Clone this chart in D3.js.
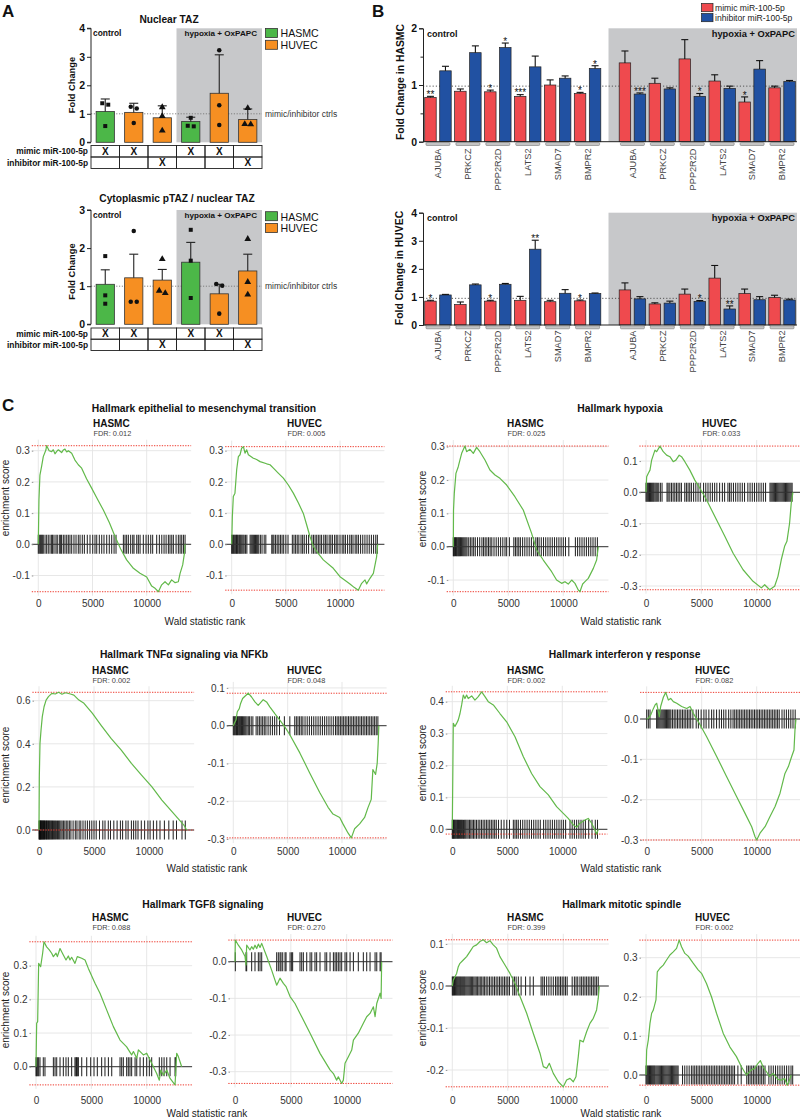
<!DOCTYPE html>
<html><head><meta charset="utf-8">
<script src="https://cdn.jsdelivr.net/npm/d3@7"></script>
<style>body{margin:0;background:#fff}svg{font-family:"Liberation Sans",Arial,Helvetica,sans-serif}</style>
</head><body>
<script>
// ================= DATA =================
// ---- Panel A ----
const aSlots = ["HASMC ctrl mimic","HUVEC ctrl mimic","HUVEC ctrl inhibitor","HASMC hyp mimic","HUVEC hyp mimic","HUVEC hyp inhibitor"];
const aCellType = ["HASMC","HUVEC","HUVEC","HASMC","HUVEC","HUVEC"];
const aMimic = ["X","X","","X","X",""];
const aInhibitor = ["","","X","","","X"];
const aMarker = ["square","circle","triangle","square","circle","triangle"];
const aCellTypes = ["HASMC","HUVEC"];
const nucMean  = [1.08, 1.05, 0.86, 0.73, 1.72, 0.80];
const nucUpper = [1.52, 1.37, 1.28, 0.88, 3.07, 1.17];
const nucPts   = [[1.37,1.32,0.57],[1.25,1.19,0.68],[1.23,0.92,0.41],[0.86,0.58,0.56],[3.23,1.30,0.61],[1.20,0.64,0.63]];
const nucTicks = [0,1,2,3,4];
const cytoMean  = [1.05, 1.22, 1.16, 1.63, 0.80, 1.40];
const cytoUpper = [1.43, 1.84, 1.44, 2.15, 1.05, 1.84];
const cytoPts   = [[1.79,0.76,0.54],[2.45,0.59,0.59],[1.71,0.88,0.82],[2.48,1.67,0.69],[1.06,1.01,0.28],[2.24,1.11,0.78]];
const cytoTicks = [0,1,2,3];

// ---- Panel B ----
const bGenes = ["AJUBA","PRKCZ","PPP2R2D","LATS2","SMAD7","BMPR2"];
const bConditions = ["control","hypoxia + OxPAPC"];
const bSeries = ["mimic miR-100-5p","inhibitor miR-100-5p"];
const hasmcMimicCtrl  = [0.78,0.89,0.88,0.80,1.00,0.85];
const hasmcMimicCtrlUp= [0.80,0.93,0.91,0.83,1.09,0.87];
const hasmcInhibCtrl  = [1.25,1.57,1.66,1.32,1.12,1.29];
const hasmcInhibCtrlUp= [1.33,1.69,1.74,1.51,1.16,1.34];
const hasmcMimicHyp   = [1.39,1.03,1.46,1.07,0.70,0.95];
const hasmcMimicHypUp = [1.60,1.12,1.80,1.18,0.79,0.98];
const hasmcInhibHyp   = [0.84,0.93,0.80,0.94,1.28,1.06];
const hasmcInhibHypUp = [0.86,0.95,0.85,0.98,1.43,1.08];
const hasmcStarsMimicCtrl = ["**","","*","***","","*"];
const hasmcStarsInhibCtrl = ["","","*","","","*"];
const hasmcStarsMimicHyp  = ["","","","","*",""];
const hasmcStarsInhibHyp  = ["***","","*","","",""];
const huvecMimicCtrl  = [0.85,0.73,0.85,0.88,0.83,0.86];
const huvecMimicCtrlUp= [0.88,0.82,0.88,1.02,0.88,0.89];
const huvecInhibCtrl  = [1.07,1.43,1.45,2.70,1.13,1.12];
const huvecInhibCtrlUp= [1.09,1.46,1.48,3.02,1.26,1.14];
const huvecMimicHyp   = [1.25,0.75,1.10,1.67,1.12,0.98];
const huvecMimicHypUp = [1.50,0.79,1.28,2.12,1.28,1.06];
const huvecInhibHyp   = [0.93,0.78,0.84,0.57,0.90,0.89];
const huvecInhibHypUp = [1.01,0.85,0.87,0.68,1.01,0.92];
const huvecStarsMimicCtrl = ["*","","*","","","*"];
const huvecStarsInhibCtrl = ["","","","**","",""];
const huvecStarsMimicHyp  = ["","","","","",""];
const huvecStarsInhibHyp  = ["","","*","**","",""];

// ---- Panel C (GSEA running enrichment score [rank, ES] and hit ranks) ----
const gseaTitles = ["Hallmark epithelial to mesenchymal transition","Hallmark hypoxia","Hallmark TNFα signaling via NFKb","Hallmark interferon γ  response","Hallmark TGFß signaling","Hallmark mitotic spindle"];
const gseaCells = ["HASMC","HUVEC"];
const gseaFdr = ["0.012","0.005","0.025","0.033","0.002","0.048","0.002","0.082","0.088","0.270","0.399","0.002"];
const gseaXTicks = [0,5000,10000];
const gseaYTicks = [[-0.1,0,0.1,0.2,0.3],[-0.1,0,0.1,0.2,0.3],[-0.1,0,0.1,0.2,0.3],[-0.3,-0.2,-0.1,0,0.1],
  [0,0.2,0.4,0.6],[-0.3,-0.2,-0.1,0,0.1],[0,0.1,0.2,0.3,0.4],[-0.3,-0.2,-0.1,0],
  [0,0.1,0.2,0.3],[-0.3,-0.2,-0.1,0],[-0.2,-0.1,0,0.1],[0,0.1,0.2,0.3]];

const emtHasmcCurve = [[0,0],[60,0.142],[150,0.222],[300,0.249],[460,0.281],[700,0.302],[770,0.316],[1000,0.3],[1230,0.297],[1380,0.303],[1540,0.29],[1700,0.298],[1850,0.303],[2150,0.294],[2300,0.302],[2460,0.305],[2620,0.296],[2770,0.3],[3080,0.292],[3380,0.27],[3690,0.255],[4000,0.244],[4450,0.21],[4920,0.18],[5450,0.145],[6000,0.11],[6550,0.07],[7080,0.025],[7600,-0.015],[8150,-0.05],[8770,-0.077],[9380,-0.093],[10000,-0.105],[10460,-0.134],[10800,-0.142],[11080,-0.152],[11380,-0.13],[11690,-0.12],[12000,-0.13],[12300,-0.114],[12620,-0.123],[12920,-0.12],[13080,-0.093],[13320,-0.066],[13480,-0.029],[13540,0]];
const emtHasmcHits = [0,90,190,280,370,460,620,770,920,1080,1230,1320,1450,1630,1750,1940,2060,2150,2310,2460,2620,2770,2920,3080,3290,3480,3690,3850,4060,4250,4520,4770,5020,5230,5390,5630,5850,6060,6310,6550,6770,6990,7170,7850,8000,8150,8310,8520,8710,8830,9080,9230,9390,9690,9940,10150,10370,10550,10920,11170,11390,11600,11790,12000,12150,12310,12460,12710,12920,13080,13230,13390,13540];

const emtHuvecCurve = [[0,0],[60,0.089],[150,0.153],[300,0.164],[460,0.239],[615,0.281],[770,0.287],[920,0.308],[1080,0.313],[1230,0.292],[1380,0.303],[1540,0.287],[2000,0.276],[2300,0.272],[2620,0.265],[3230,0.258],[3540,0.255],[3850,0.244],[4300,0.228],[4770,0.212],[5230,0.19],[5690,0.164],[6150,0.133],[6615,0.099],[6900,0.065],[7230,0.025],[7540,-0.007],[8000,-0.03],[8460,-0.05],[9380,-0.077],[10000,-0.104],[10450,-0.115],[10920,-0.127],[11300,-0.138],[11690,-0.147],[12000,-0.125],[12310,-0.114],[12460,-0.127],[12770,-0.109],[13080,-0.093],[13380,-0.04],[13480,0]];
const emtHuvecHits = [0,60,150,220,300,380,450,520,600,700,780,860,950,1050,1150,1280,1400,1700,1800,1900,2000,2100,2200,2300,2400,2500,2650,2800,3000,3150,3700,3800,3900,4050,4200,4350,4500,4650,4800,5000,5200,5600,5750,5900,6050,6200,6400,6550,6700,6900,7100,7400,7550,7700,7850,8000,8150,8300,8500,8650,8800,9000,9150,9300,9500,9650,9800,10000,10200,10350,10500,10700,10900,11050,11200,11400,11550,11700,11900,12100,12300,12500,12700,12900,13100,13300,13450];

const hypHasmcCurve = [[0,0],[20,0.11],[90,0.16],[240,0.22],[450,0.24],[600,0.26],[760,0.28],[1060,0.302],[1210,0.285],[1515,0.292],[1820,0.28],[2120,0.298],[2420,0.285],[2880,0.26],[3330,0.23],[3790,0.215],[4240,0.205],[4850,0.185],[5600,0.15],[6360,0.11],[7120,0.04],[7575,-0.01],[8180,-0.04],[8940,-0.075],[9390,-0.1],[9850,-0.11],[10150,-0.105],[10450,-0.112],[10760,-0.1],[11060,-0.11],[11360,-0.13],[11510,-0.135],[11760,-0.112],[11970,-0.105],[12270,-0.095],[12730,-0.065],[13030,-0.04],[13180,0]];
const hypHasmcHits = [0,50,120,200,280,350,430,500,580,650,750,850,950,1050,1150,1250,1400,1550,1700,1850,2000,2200,2400,2600,2750,2900,3050,3200,3350,3500,3700,3900,4100,4300,4500,4700,4850,5100,5500,5650,5800,5950,6100,6300,6500,6700,6900,7100,7300,7500,7650,7800,8000,8200,8400,8600,8800,9000,9200,9400,9600,9800,10000,10200,10500,11100,11300,11500,11700,11900,12100,12300,12500,12700,12900,13100];

const hypHuvecCurve = [[0,0],[60,0.05],[210,0.061],[360,0.071],[510,0.103],[660,0.119],[810,0.135],[960,0.13],[1260,0.148],[1560,0.13],[1860,0.119],[2160,0.114],[2460,0.098],[2700,0.103],[3000,0.119],[3210,0.114],[3510,0.098],[3960,0.071],[4410,0.039],[4865,0.013],[5465,-0.024],[6370,-0.088],[7120,-0.141],[7870,-0.195],[8770,-0.248],[9670,-0.285],[10420,-0.306],[10720,-0.296],[11170,-0.312],[11620,-0.301],[11920,-0.269],[12220,-0.216],[12520,-0.173],[12730,-0.157],[12970,-0.099],[13120,-0.035],[13270,0]];
const hypHuvecHits = [0,80,160,240,320,400,480,560,640,720,820,920,1020,1150,1300,1450,1900,2000,2150,2300,2450,2600,2750,2900,3050,3200,3500,3650,3800,3950,4100,4300,4500,4700,4900,5200,5400,5600,5800,6000,6200,6400,6650,6900,7100,7400,7550,7700,7900,8100,8300,8500,8700,8900,9200,9400,9600,9800,10000,10200,10400,10600,10800,11200,11300,11400,11500,11600,11700,11800,11900,12000,12100,12200,12300,12400,12500,12600,12700,12800,12900,13000,13100,13200];

const tnfHasmcCurve = [[0,0],[30,0.247],[90,0.402],[185,0.464],[300,0.526],[460,0.572],[645,0.603],[860,0.619],[1170,0.634],[1480,0.631],[1785,0.639],[2090,0.63],[2400,0.637],[2860,0.631],[3170,0.626],[3630,0.603],[4090,0.588],[4860,0.541],[5630,0.487],[6550,0.425],[7480,0.371],[8400,0.309],[9320,0.255],[10250,0.201],[11170,0.139],[12090,0.085],[12710,0.049],[13170,0.023],[13420,0]];
const tnfHasmcHits = [0,40,80,120,160,200,250,300,350,400,450,500,560,620,680,740,800,870,940,1010,1080,1150,1230,1310,1400,1490,1580,1680,1780,1880,1990,2100,2220,2350,2480,2620,2760,2900,3100,3300,3450,3650,3800,4000,4200,4400,4600,4800,5000,5200,5500,5800,6000,6300,6500,6800,7100,7400,7600,7900,8100,8400,8600,8800,9000,9300,9600,9900,10100,10400,10700,11000,11400,11800,12200,12500,13000,13300];

const tnfHuvecCurve = [[0,0],[90,0.006],[245,0.015],[367,0.037],[550,0.045],[673,0.059],[856,0.072],[1070,0.078],[1376,0.086],[1680,0.076],[1990,0.063],[2290,0.054],[2750,0.069],[3060,0.063],[3360,0.05],[3820,0.032],[4280,0.015],[4740,-0.003],[5200,-0.024],[6120,-0.072],[7030,-0.125],[7950,-0.177],[8720,-0.216],[9170,-0.234],[9790,-0.243],[10090,-0.26],[10550,-0.284],[10860,-0.297],[11160,-0.273],[11620,-0.26],[12080,-0.243],[12390,-0.217],[12690,-0.195],[12840,-0.116],[13090,-0.129],[13240,-0.099],[13330,-0.046],[13390,0]];
const tnfHuvecHits = [0,80,150,230,300,380,450,530,600,680,760,850,950,1050,1150,1260,1380,1500,1650,1800,2100,2250,2400,2550,2700,2850,3000,3200,3400,3600,3800,4000,4250,4700,5200,5650,5800,5950,6100,6250,6400,6600,6800,7000,7200,7400,7600,7800,8000,8200,8400,8600,8800,9000,9200,9400,9550,9700,9850,10000,10150,10300,10450,10600,10750,10900,11050,11200,11350,11500,11650,11800,11950,12100,12250,12400,12550,12700,12850,13000,13150,13300];

const ifnHasmcCurve = [[0,0],[90,0.332],[240,0.322],[390,0.332],[545,0.343],[700,0.363],[850,0.39],[1000,0.421],[1150,0.41],[1300,0.421],[1450,0.41],[1760,0.418],[2060,0.405],[2360,0.416],[2670,0.431],[2970,0.416],[3270,0.4],[3730,0.39],[4330,0.363],[4940,0.337],[5700,0.29],[6450,0.228],[7210,0.175],[7970,0.134],[8730,0.108],[9480,0.071],[10090,0.05],[10540,0.034],[11000,0.014],[11300,0.006],[11600,0.019],[12060,0.029],[12360,0.034],[12670,0.019],[12970,-0.002],[13120,-0.015],[13270,0]];
const ifnHasmcHits = [0,60,120,180,250,320,400,480,560,650,740,830,920,1020,1120,1220,1330,1440,1560,1680,1800,1930,2060,2200,2350,2500,2650,2800,2950,3100,3250,3400,3550,3700,3850,4000,4200,4450,4700,4950,5200,5550,5700,5850,6000,6200,6400,6600,6800,7000,7200,7400,7600,7800,8000,8300,8500,8700,8900,9100,9300,9500,9700,9900,10100,10300,10700,10900,11100,11300,11500,11700,11900,12100,12400,12700,13000,13200];

const ifnHuvecCurve = [[0,0],[150,0.002],[365,0.01],[545,0.022],[760,0.035],[910,0.039],[1150,0.006],[1270,0.031],[1515,0.054],[1730,0.066],[1970,0.047],[2180,0.051],[2420,0.043],[2730,0.039],[3180,0.031],[3640,0.026],[3940,0.031],[4240,0.014],[4700,-0.007],[5450,-0.044],[6360,-0.093],[7270,-0.143],[8180,-0.193],[8940,-0.234],[9545,-0.267],[9850,-0.292],[10000,-0.3],[10300,-0.283],[10760,-0.267],[11210,-0.242],[11670,-0.217],[12120,-0.184],[12570,-0.135],[12880,-0.118],[13180,-0.093],[13390,-0.077],[13480,-0.027],[13570,0]];
const ifnHuvecHits = [0,150,300,900,1000,1100,1200,1300,1400,1500,1600,1700,1800,1900,2000,2100,2200,2350,2500,2650,2800,2950,3100,3250,3400,3550,3700,3850,4000,4200,4500,4700,4950,5200,5400,5650,5900,6100,6350,6600,6800,7000,7200,7450,7650,7850,8000,8150,8300,8450,8600,8750,8900,9050,9200,9350,9500,9650,9800,9950,10100,10250,10400,10550,10700,10850,11000,11150,11300,11450,11600,11750,11900,12050,12300,12500,12700,12900,13100,13300,13500];

const tgfHasmcCurve = [[0,0],[60,0.129],[150,0.134],[240,0.307],[420,0.297],[600,0.337],[720,0.371],[960,0.356],[1200,0.347],[1415,0.337],[1570,0.327],[1810,0.337],[1930,0.327],[2170,0.351],[2470,0.332],[2710,0.317],[2920,0.329],[3070,0.317],[3220,0.325],[3520,0.307],[3730,0.327],[4130,0.322],[4430,0.317],[4730,0.292],[5330,0.248],[5780,0.218],[6390,0.168],[6990,0.119],[7590,0.079],[8190,0.059],[8640,0.035],[8800,0.045],[9100,0.025],[9250,0.05],[9700,0.035],[10000,0.04],[10450,0.01],[10900,-0.02],[11140,-0.04],[11270,-0.01],[11510,-0.025],[11810,-0.01],[12110,-0.035],[12560,-0.054],[12710,0.04],[12860,0.03],[13160,0]];
const tgfHasmcHits = [0,60,150,240,360,660,810,1570,1720,1870,2170,2470,2710,2920,3220,3520,3610,3670,3730,3830,4130,4580,4940,5240,5540,5930,6230,6540,6840,7590,7740,7890,8190,8340,8490,8640,8950,9100,9400,9700,10000,10240,10450,11140,11360,11570,11810,12110,12560,12620];

const tgfHuvecCurve = [[0,0],[30,0.059],[300,0.045],[600,0.032],[900,0.014],[985,-0.009],[1045,0.045],[1340,0.032],[1490,0.041],[1640,0.034],[1790,0.045],[1940,0.036],[2090,0.048],[2240,0.039],[2390,0.05],[2840,0.014],[3280,-0.023],[3730,-0.064],[3880,-0.055],[4030,-0.045],[4330,-0.059],[4570,-0.068],[4930,-0.095],[5370,-0.114],[5820,-0.141],[6720,-0.195],[7610,-0.25],[8510,-0.295],[8810,-0.305],[9100,-0.323],[9250,-0.314],[9550,-0.332],[9700,-0.323],[9850,-0.277],[10150,-0.259],[10450,-0.241],[10600,-0.214],[11040,-0.195],[11490,-0.168],[11790,-0.15],[12090,-0.141],[12390,-0.123],[12540,-0.15],[12690,-0.114],[12990,-0.086],[13080,-0.1],[13130,0]];
const tgfHuvecHits = [30,985,1045,1490,1790,2090,2240,2390,3730,3880,4030,4120,4270,4480,4570,4930,5070,5160,5820,5970,6120,6420,6720,6870,7160,7310,7610,8060,8210,8510,8810,8960,9100,9250,9400,9550,9850,10000,10300,10600,11040,11490,11790,12090,12540,12690,12990,13080];

const mitHasmcCurve = [[0,0],[90,0.014],[240,0.022],[390,0.03],[540,0.046],[690,0.054],[990,0.062],[1290,0.07],[1590,0.082],[1890,0.094],[2190,0.098],[2490,0.106],[2790,0.11],[3090,0.103],[3390,0.108],[3690,0.098],[3990,0.09],[4290,0.07],[4745,0.05],[5195,0.03],[5645,0.006],[6100,-0.025],[6700,-0.065],[7300,-0.113],[7900,-0.16],[8200,-0.192],[8500,-0.196],[8740,-0.184],[9100,-0.208],[9550,-0.228],[10000,-0.24],[10300,-0.224],[10600,-0.22],[10900,-0.228],[11140,-0.216],[11350,-0.168],[11500,-0.129],[11800,-0.133],[12100,-0.109],[12400,-0.089],[12700,-0.077],[13000,-0.057],[13150,-0.029],[13240,0]];
const mitHasmcHits = [0,60,120,200,280,360,440,520,600,680,760,850,940,1030,1120,1220,1320,1420,1520,1620,1720,1830,1940,2050,2160,2280,2400,2520,2650,2780,2910,3050,3200,3350,3500,3650,3800,3950,4100,4250,4400,4550,4700,4850,5000,5150,5450,5600,5750,5950,6200,6600,7000,7300,8000,8150,8300,8500,8700,8900,9100,9300,9450,9600,9750,9900,10050,10200,10350,10800,11000,11150,11300,11500,11650,11800,11950,12100,12250,12400,12550,12700,12850,13000,13150];

const mitHuvecCurve = [[0,0],[60,0.064],[210,0.09],[360,0.132],[510,0.158],[660,0.166],[900,0.192],[1020,0.264],[1260,0.273],[1560,0.281],[1860,0.294],[2160,0.307],[2460,0.315],[2760,0.324],[3000,0.345],[3210,0.328],[3510,0.311],[3810,0.304],[4260,0.286],[4710,0.269],[5015,0.26],[5465,0.234],[5915,0.2],[6370,0.158],[6970,0.107],[7570,0.072],[8170,0.047],[8620,0.021],[9070,0],[9520,0.013],[9820,0.017],[10120,0.03],[10330,0.037],[10570,0.021],[10870,0.009],[11170,-0.004],[11470,0.004],[11920,-0.011],[12220,-0.013],[12520,-0.009],[12760,-0.026],[12970,-0.013],[13120,0]];
const mitHuvecHits = [0,80,160,240,320,400,480,560,640,720,800,900,1000,1100,1200,1300,1400,1500,1600,1700,1800,1900,2000,2100,2200,2300,2400,2500,2600,2700,2800,2900,3300,3500,3700,3900,4100,4250,4400,4550,4700,4850,5000,5150,5300,5450,5600,5750,5900,6050,6200,6350,6500,6650,6800,6950,7100,7250,7400,7550,7700,7850,8000,8300,8600,9100,9250,9400,9550,9700,9850,10000,10150,10300,10450,10600,10750,11100,11300,11500,11700,11900,12100,12300,12500,12700,12900,13100,13250];

const gseaCurves = [emtHasmcCurve,emtHuvecCurve,hypHasmcCurve,hypHuvecCurve,tnfHasmcCurve,tnfHuvecCurve,ifnHasmcCurve,ifnHuvecCurve,tgfHasmcCurve,tgfHuvecCurve,mitHasmcCurve,mitHuvecCurve];
const gseaHits = [emtHasmcHits,emtHuvecHits,hypHasmcHits,hypHuvecHits,tnfHasmcHits,tnfHuvecHits,ifnHasmcHits,ifnHuvecHits,tgfHasmcHits,tgfHuvecHits,mitHasmcHits,mitHuvecHits];

// ================= LAYOUT / STYLE =================
const FONT = '"Liberation Sans",Arial,Helvetica,sans-serif';
const cellColor = {HASMC:"#4cb748", HUVEC:"#f68f22"};
const bColor = ["#ef4a4e","#2151a2"];
const shade = "#c7c8ca";

const svg = d3.select("body").append("svg").attr("width",800).attr("height",1120);
function txt(x,y,s,o={}){
  const t = svg.append("text").attr("x",x).attr("y",y).text(s)
    .attr("font-size",o.size||10).attr("font-weight",o.bold?"bold":"normal")
    .attr("text-anchor",o.anchor||"start").attr("fill",o.fill||"#111");
  if(o.rot) t.attr("transform",`rotate(-90,${x},${y})`);
  return t;
}
function styleAxis(g, size, bold, color){
  g.selectAll("text").attr("font-size",size).attr("font-weight",bold?"bold":"normal").attr("fill",color||"#111").attr("font-family",FONT);
  g.selectAll("line").attr("stroke","#222");
  g.select(".domain").attr("stroke","#222");
}

// panel letters
txt(2,17,"A",{size:17,bold:true});
txt(372,17,"B",{size:17,bold:true});
txt(2,411,"C",{size:17,bold:true});

// ================= PANEL A =================
function drawA(o){
  const x = d3.scaleBand().domain(d3.range(aSlots.length)).range([91,262]).paddingInner(0.36).paddingOuter(0.18);
  const y = d3.scaleLinear().domain([0,o.ymax]).range([o.y0,o.yTop]);
  const half = x.step()*0.18;
  const edge = i => i>=aSlots.length ? 262 : x(i)-half;
  svg.append("rect").attr("x",edge(3)).attr("y",y(o.ymax)).attr("width",262-edge(3)).attr("height",y(0)-y(o.ymax)).attr("fill",shade);
  svg.append("line").attr("x1",91).attr("x2",262).attr("y1",y(1)).attr("y2",y(1)).attr("stroke","#777").attr("stroke-width",0.9).attr("stroke-dasharray","1.2,1.6");
  txt(265,y(1)+3,"mimic/inhibitor ctrls",{size:8.5,fill:"#333"});
  const idx = d3.range(aSlots.length);
  svg.selectAll(null).data(idx).enter().append("rect")
    .attr("x",i=>x(i)).attr("width",x.bandwidth()).attr("y",i=>y(o.mean[i])).attr("height",i=>y(0)-y(o.mean[i]))
    .attr("fill",i=>cellColor[aCellType[i]]).attr("stroke","#333").attr("stroke-width",0.8);
  idx.forEach(i=>{
    const cx = x(i)+x.bandwidth()/2;
    svg.append("line").attr("x1",cx).attr("x2",cx).attr("y1",y(o.mean[i])).attr("y2",y(o.up[i])).attr("stroke","#222").attr("stroke-width",1.1);
    svg.append("line").attr("x1",cx-4.5).attr("x2",cx+4.5).attr("y1",y(o.up[i])).attr("y2",y(o.up[i])).attr("stroke","#222").attr("stroke-width",1.1);
    const pts = o.pts[i];
    const sym = aMarker[i]==="square"?d3.symbolSquare:aMarker[i]==="circle"?d3.symbolCircle:d3.symbolTriangle;
    pts.forEach((v,k)=>{
      let dx = 0;
      pts.forEach((w,j)=>{ if(j!==k && Math.abs(w-v)<0.1){ dx = k<j ? -3 : 3; }});
      svg.append("path").attr("d",d3.symbol().type(sym).size(aMarker[i]==="triangle"?20:16)())
        .attr("transform",`translate(${cx+dx},${y(v)})`).attr("fill","#111");
    });
  });
  const ax = svg.append("g").attr("transform","translate(91,0)").call(d3.axisLeft(y).tickValues(o.ticks).tickSize(4).tickPadding(2).tickFormat(d3.format("d")));
  styleAxis(ax,10.5,true);
  ax.select(".domain").attr("d",`M-4,${y(o.ymax)}H0V${y(0)}H-4`);
  txt(o.titleX,o.titleY,o.title,{size:10.2,bold:true,anchor:"middle"});
  txt(75,o.ylabY,"Fold Change",{size:9.3,bold:true,anchor:"middle",rot:true});
  txt(93,o.condY,"control",{size:8.4,bold:true});
  txt(184.5,o.condY,"hypoxia + OxPAPC",{size:8.1,bold:true});
  aCellTypes.forEach((c,k)=>{
    svg.append("rect").attr("x",265.5).attr("y",o.legY+k*11.8).attr("width",12).attr("height",9).attr("fill",cellColor[c]).attr("stroke","#333").attr("stroke-width",0.8);
    txt(280.5,o.legY+8.8+k*11.8,c,{size:10.6});
  });
  const rows = [["mimic miR-100-5p",aMimic,o.tTop,o.tMid],["inhibitor miR-100-5p",aInhibitor,o.tMid,o.tBot]];
  rows.forEach(([lab,marks,t,b])=>{
    txt(88,(t+b)/2+3,lab,{size:8.4,bold:true,anchor:"end"});
    idx.forEach(i=>{
      svg.append("rect").attr("x",edge(i)).attr("y",t).attr("width",edge(i+1)-edge(i)).attr("height",b-t).attr("fill","none").attr("stroke","#222").attr("stroke-width",0.9);
      if(marks[i]) txt(x(i)+x.bandwidth()/2,(t+b)/2+3.6,marks[i],{size:10,bold:true,anchor:"middle"});
    });
  });
}
drawA({ymax:4,y0:142.3,yTop:28.3,ticks:nucTicks,mean:nucMean,up:nucUpper,pts:nucPts,title:"Nuclear TAZ",titleX:169,titleY:23,ylabY:85,condY:35.5,legY:28.5,tTop:145.5,tMid:157,tBot:168.5});
drawA({ymax:3,y0:324.3,yTop:210,ticks:cytoTicks,mean:cytoMean,up:cytoUpper,pts:cytoPts,title:"Cytoplasmic pTAZ / nuclear TAZ",titleX:177,titleY:202,ylabY:271.5,condY:217.5,legY:211.7,tTop:328,tMid:339.2,tBot:350.5});

// ================= PANEL B =================
function drawB(o){
  const xs = d3.scaleLinear().domain([-0.5,12]).range([423,797]);
  const y = d3.scaleLinear().domain([0,o.ymax]).range([o.y0,o.yTop]);
  const slot = (ci,gi)=> ci*6.5+gi;
  const bw = 11.5, off = 7.5;
  svg.append("rect").attr("x",xs(5.7)).attr("y",y(o.ymax)).attr("width",797-xs(5.7)).attr("height",y(0)-y(o.ymax)).attr("fill",shade);
  svg.append("line").attr("x1",423).attr("x2",797).attr("y1",y(o.ref)).attr("y2",y(o.ref)).attr("stroke","#555").attr("stroke-width",1).attr("stroke-dasharray","1.2,2");
  const series = [[o.mc,o.mcU,o.smc,0,0],[o.ic,o.icU,o.sic,0,1],[o.mh,o.mhU,o.smh,1,0],[o.ih,o.ihU,o.sih,1,1]];
  series.forEach(([vals,ups,stars,ci,si])=>{
    vals.forEach((v,gi)=>{
      const cx = xs(slot(ci,gi)) + (si===0?-off:off);
      svg.append("rect").attr("x",cx-bw/2).attr("width",bw).attr("y",y(v)).attr("height",y(0)-y(v)).attr("fill",bColor[si]).attr("stroke","#222").attr("stroke-width",0.7);
      svg.append("line").attr("x1",cx).attr("x2",cx).attr("y1",y(v)).attr("y2",y(ups[gi])).attr("stroke","#111").attr("stroke-width",1.1);
      svg.append("line").attr("x1",cx-3.5).attr("x2",cx+3.5).attr("y1",y(ups[gi])).attr("y2",y(ups[gi])).attr("stroke","#111").attr("stroke-width",1.1);
      if(stars[gi]) txt(cx,y(ups[gi])+1.8,stars[gi],{size:10,anchor:"middle"});
    });
  });
  svg.append("line").attr("x1",423).attr("x2",797).attr("y1",y(0)).attr("y2",y(0)).attr("stroke","#222").attr("stroke-width",1);
  bConditions.forEach((c,ci)=>bGenes.forEach((g,gi)=>{
    const cx = xs(slot(ci,gi));
    svg.append("rect").attr("x",cx-12).attr("y",y(0)+0.8).attr("width",24).attr("height",3).attr("rx",1).attr("fill","#c4c4c4").attr("stroke","#777").attr("stroke-width",0.6);
    txt(cx+3.3,o.labY,g,{size:9.2,anchor:"end",rot:true,fill:"#444"});
  }));
  const ax = svg.append("g").attr("transform","translate(423,0)").call(d3.axisLeft(y).tickValues(o.ticks).tickSize(4).tickPadding(2).tickFormat(d3.format("d")));
  styleAxis(ax,10.5,true);
  if(o.minor){
    const mx = svg.append("g").attr("transform","translate(423,0)").call(d3.axisLeft(y).tickValues(o.minor).tickSize(2.5).tickFormat(""));
    mx.select(".domain").remove(); mx.selectAll("line").attr("stroke","#222");
  }
  txt(o.ylabX,o.ylabY,o.ylab,{size:10.4,bold:true,anchor:"middle",rot:true});
  txt(427,o.condY,bConditions[0],{size:9,bold:true});
  txt(795,o.condY,bConditions[1],{size:9.3,bold:true,anchor:"end"});
}
drawB({ymax:2,y0:141.7,yTop:28.3,ticks:[0,1,2],minor:[0.5,1.5],ref:0.98,
  mc:hasmcMimicCtrl,mcU:hasmcMimicCtrlUp,ic:hasmcInhibCtrl,icU:hasmcInhibCtrlUp,mh:hasmcMimicHyp,mhU:hasmcMimicHypUp,ih:hasmcInhibHyp,ihU:hasmcInhibHypUp,
  smc:hasmcStarsMimicCtrl,sic:hasmcStarsInhibCtrl,smh:hasmcStarsMimicHyp,sih:hasmcStarsInhibHyp,
  labY:148.5,ylab:"Fold Change in HASMC",ylabX:403.5,ylabY:82,condY:36.5});
drawB({ymax:4,y0:325,yTop:212.7,ticks:[0,1,2,3,4],minor:null,ref:0.95,
  mc:huvecMimicCtrl,mcU:huvecMimicCtrlUp,ic:huvecInhibCtrl,icU:huvecInhibCtrlUp,mh:huvecMimicHyp,mhU:huvecMimicHypUp,ih:huvecInhibHyp,ihU:huvecInhibHypUp,
  smc:huvecStarsMimicCtrl,sic:huvecStarsInhibCtrl,smh:huvecStarsMimicHyp,sih:huvecStarsInhibHyp,
  labY:330.5,ylab:"Fold Change in HUVEC",ylabX:402.5,ylabY:268,condY:221});
bSeries.forEach((s,k)=>{
  svg.append("rect").attr("x",701.5).attr("y",3.5+k*10).attr("width",11.5).attr("height",8.2).attr("fill",bColor[k]).attr("stroke","#222").attr("stroke-width",0.7);
  txt(715,11.3+k*10,s,{size:8.6,fill:"#222"});
});

// ================= PANEL C =================
const gseaLayout = [
  {px0:38.3,px10k:146.7,py0:544.3,refV:0.3,refPx:450.7,subX:93,ylabY:498},
  {px0:231.7,px10k:340,py0:544.3,refV:0.3,refPx:450.7,subX:287},
  {px0:453.3,px10k:563.3,py0:546.7,refV:0.3,refPx:446.7,subX:507,ylabY:509},
  {px0:646,px10k:756.7,py0:492.3,refV:-0.3,refPx:586,subX:702},
  {px0:39,px10k:149,py0:830,refV:0.6,refPx:700.7,subX:92,ylabY:765},
  {px0:233.3,px10k:342,py0:725.7,refV:-0.3,refPx:839,subX:287},
  {px0:452.3,px10k:562.3,py0:829.3,refV:0.4,refPx:701.7,subX:507,ylabY:763},
  {px0:646.7,px10k:756.7,py0:719,refV:-0.3,refPx:840,subX:695},
  {px0:36,px10k:146.7,py0:1066.7,refV:0.3,refPx:965.7,subX:92,ylabY:1010},
  {px0:235,px10k:346.7,py0:961.7,refV:-0.3,refPx:1071.7,subX:287},
  {px0:452.3,px10k:563.3,py0:986,refV:-0.2,refPx:1070,subX:507,ylabY:1008},
  {px0:646,px10k:756.7,py0:1075,refV:0.3,refPx:957.7,subX:695}
];
const gseaRows = [
  {titleY:411.5,subY:427,fdrY:436,tickY:609,waldY:624.5,titleX:[204,620],waldX:[205,621]},
  {titleY:658,subY:674,fdrY:682.5,tickY:857,waldY:871.5,titleX:[184,624.6],waldX:[207,621]},
  {titleY:908,subY:920.5,fdrY:929.5,tickY:1105.5,waldY:1117,titleX:[203,621.7],waldX:[207,621]}
];
gseaTitles.forEach((t,s)=>{
  const r = gseaRows[Math.floor(s/2)], col = s%2;
  txt(r.titleX[col],r.titleY,t,{size:10.3,bold:true,anchor:"middle"});
  txt(r.waldX[col],r.waldY,"Wald statistic rank",{size:10,anchor:"middle",fill:"#222"});
});
gseaCurves.forEach((curve,p)=>{
  const L = gseaLayout[p], r = gseaRows[Math.floor(p/4)];
  const g = svg.append("g");
  const x = d3.scaleLinear().domain([0,10000]).range([L.px0,L.px10k]);
  const y = d3.scaleLinear().domain([0,L.refV]).range([L.py0,L.refPx]);
  const xL = x(-600), xR = Math.min(x(14100),800);
  const esMax = d3.max(curve,d=>d[1]), esMin = d3.min(curve,d=>d[1]);
  const ticks = gseaYTicks[p];
  const yT = Math.min(y(esMax),y(d3.max(ticks)))-6, yB = Math.max(y(esMin),y(d3.min(ticks)))+4;
  g.selectAll(null).data(ticks).enter().append("line").attr("x1",xL).attr("x2",xR).attr("y1",d=>y(d)).attr("y2",d=>y(d)).attr("stroke","#e4e4e4").attr("stroke-width",0.9);
  g.selectAll(null).data(gseaXTicks).enter().append("line").attr("x1",d=>x(d)).attr("x2",d=>x(d)).attr("y1",yT).attr("y2",yB).attr("stroke","#e4e4e4").attr("stroke-width",0.9);
  g.selectAll(null).data(gseaHits[p]).enter().append("line").attr("x1",d=>x(d)).attr("x2",d=>x(d)).attr("y1",y(0)-9.5).attr("y2",y(0)+9.5).attr("stroke","#000").attr("stroke-width",1.05).attr("stroke-opacity",0.85);
  g.append("line").attr("x1",xL).attr("x2",xR).attr("y1",y(0)).attr("y2",y(0)).attr("stroke","#333").attr("stroke-width",1);
  [esMax,esMin].forEach(v=>g.append("line").attr("x1",xL).attr("x2",xR).attr("y1",y(v)).attr("y2",y(v)).attr("stroke","#ee3b2f").attr("stroke-width",1).attr("stroke-dasharray","1.3,1.3"));
  g.append("path").datum(curve).attr("d",d3.line().x(d=>x(d[0])).y(d=>y(d[1]))).attr("fill","none").attr("stroke","#62b94a").attr("stroke-width",1.2).attr("stroke-linejoin","round");
  const ay = g.append("g").attr("transform",`translate(${L.px0-5},0)`).call(d3.axisLeft(y).tickValues(ticks).tickSize(1.5).tickPadding(2).tickFormat(d=>d.toFixed(1)));
  ay.select(".domain").remove(); styleAxis(ay,10,false,"#333"); ay.selectAll("line").attr("stroke","#999");
  const axb = g.append("g").attr("transform",`translate(0,${r.tickY-9})`).call(d3.axisBottom(x).tickValues(gseaXTicks).tickSize(0).tickPadding(0).tickFormat(d3.format("d")));
  axb.select(".domain").remove(); styleAxis(axb,10,false,"#333");
  txt(L.subX,r.subY,gseaCells[p%2],{size:10,bold:true});
  txt(L.subX+0.5,r.fdrY,"FDR: "+gseaFdr[p],{size:7.4,fill:"#444"});
  if(L.ylabY) txt(p%4===0?8.5:425.5,L.ylabY,"enrichment score",{size:10,anchor:"middle",rot:true,fill:"#222"});
});
</script>
</body></html>
